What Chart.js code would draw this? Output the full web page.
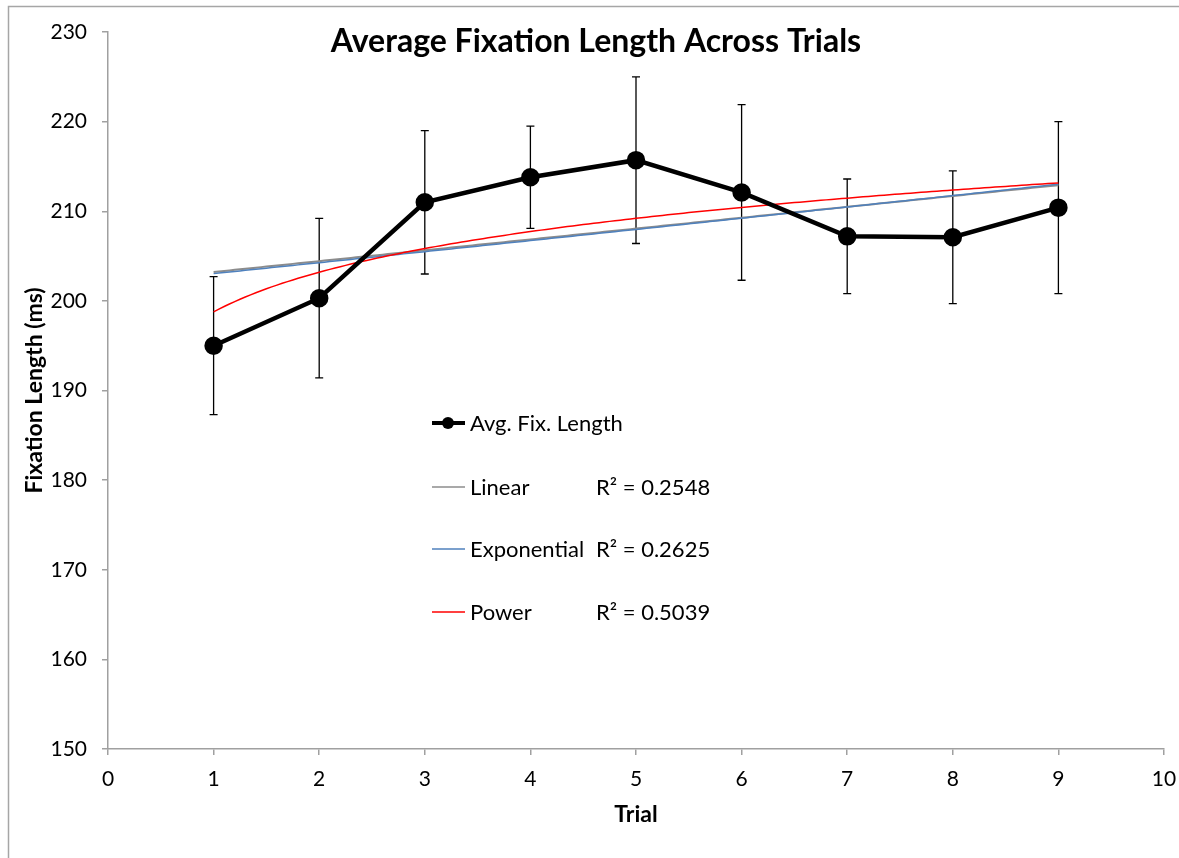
<!DOCTYPE html>
<html lang="en">

<head>
    <meta charset="UTF-8">
    <title>Average Fixation Length Across Trials</title>
    <script src="https://cdn.jsdelivr.net/npm/chart.js"></script>
    <style>
        html, body { margin: 0; padding: 0; background: #fff; }
        .frame { position: relative; width: 1179px; height: 858px; }
    </style>
</head>

<body>
    <div class="frame">
        <canvas id="fixChart" width="1179" height="858"></canvas>
    </div>

    <script>
        // trial numbers and mean fixation length (ms) with +/- error
        const trials = [1, 2, 3, 4, 5, 6, 7, 8, 9];
        const avgFix = [195.0, 200.3, 211.0, 213.8, 215.7, 212.1, 207.2, 207.1, 210.4];
        const fixErr = [7.7, 8.9, 8.0, 5.7, 9.3, 9.8, 6.4, 7.4, 9.6];

        const xTicks = [0, 1, 2, 3, 4, 5, 6, 7, 8, 9, 10];
        const yTicks = [150, 160, 170, 180, 190, 200, 210, 220, 230];

        const fitNames = ['Linear', 'Exponential', 'Power'];
        const fitR2 = ['R² = 0.2548', 'R² = 0.2625', 'R² = 0.5039'];

        const FONT = 'Lato, "Open Sans", sans-serif';
        const AXIS_GREY = '#a0a0a0';

        // least squares on (u, v)
        function lsq(us, vs) {
            const n = us.length;
            let su = 0, sv = 0, suu = 0, suv = 0;
            for (let i = 0; i < n; i++) {
                su += us[i]; sv += vs[i];
                suu += us[i] * us[i]; suv += us[i] * vs[i];
            }
            const b = (n * suv - su * sv) / (n * suu - su * su);
            return { a: (sv - b * su) / n, b: b };
        }

        const lin = lsq(trials, avgFix);
        const expo = lsq(trials, avgFix.map(Math.log));
        const pow = lsq(trials.map(Math.log), avgFix.map(Math.log));

        // trendline curves sampled between first and last trial
        const fitX = [];
        for (let k = 0; k <= 160; k++) fitX.push(1 + k * 0.05);
        const linPts = fitX.map(x => ({ x: x, y: lin.a + lin.b * x }));
        const expPts = fitX.map(x => ({ x: x, y: Math.exp(expo.a + expo.b * x) }));
        const powPts = fitX.map(x => ({ x: x, y: Math.exp(pow.a) * Math.pow(x, pow.b) }));

        const errorBars = {
            id: 'errorBars',
            beforeDatasetsDraw(chart) {
                const ctx = chart.ctx;
                const xs = chart.scales.x, ys = chart.scales.y;
                ctx.save();
                ctx.strokeStyle = '#000';
                ctx.lineWidth = 1.3;
                trials.forEach((t, i) => {
                    const px = xs.getPixelForValue(t);
                    const top = ys.getPixelForValue(avgFix[i] + fixErr[i]);
                    const bot = ys.getPixelForValue(avgFix[i] - fixErr[i]);
                    ctx.beginPath();
                    ctx.moveTo(px, top); ctx.lineTo(px, bot);
                    ctx.moveTo(px - 4, top); ctx.lineTo(px + 4, top);
                    ctx.moveTo(px - 4, bot); ctx.lineTo(px + 4, bot);
                    ctx.stroke();
                });
                ctx.restore();
            }
        };

        // outer frame, title and the in-plot legend
        const decorations = {
            id: 'decorations',
            afterDraw(chart) {
                const ctx = chart.ctx;
                ctx.save();
                ctx.strokeStyle = '#a6a6a6';
                ctx.lineWidth = 1.5;
                ctx.strokeRect(8.5, 6.5, 1200, 900);

                ctx.fillStyle = '#000';
                ctx.font = 'bold 32px ' + FONT;
                ctx.textAlign = 'center';
                ctx.textBaseline = 'middle';
                ctx.fillText('Average Fixation Length Across Trials', 596, 42);

                const ds = chart.data.datasets;
                const rows = [423, 487, 549, 612];
                ctx.font = '22px ' + FONT;
                ctx.textAlign = 'left';

                // data series entry with marker
                ctx.strokeStyle = '#000';
                ctx.lineWidth = 4;
                ctx.beginPath();
                ctx.moveTo(432, rows[0]); ctx.lineTo(465, rows[0]);
                ctx.stroke();
                ctx.beginPath();
                ctx.arc(448, rows[0], 6, 0, Math.PI * 2);
                ctx.fillStyle = '#000';
                ctx.fill();
                ctx.fillText(ds[0].label, 470, rows[0] + 1);

                for (let i = 0; i < fitNames.length; i++) {
                    const y = rows[i + 1];
                    ctx.strokeStyle = ds[i + 1].borderColor;
                    ctx.lineWidth = 1.5;
                    ctx.beginPath();
                    ctx.moveTo(432, y); ctx.lineTo(465, y);
                    ctx.stroke();
                    ctx.fillStyle = '#000';
                    ctx.fillText(fitNames[i], 470, y + 1);
                    const w = ctx.measureText(fitNames[i] + ' ').width;
                    ctx.fillText(fitR2[i], Math.max(596, 470 + w), y + 1);
                }
                ctx.restore();
            }
        };

        const ctx = document.getElementById('fixChart');
        new Chart(ctx, {
            type: 'scatter',
            data: {
                datasets: [{
                    label: 'Avg. Fix. Length',
                    data: trials.map((t, i) => ({ x: t, y: avgFix[i] })),
                    showLine: true,
                    borderColor: '#000',
                    backgroundColor: '#000',
                    borderWidth: 4.5,
                    pointRadius: 7,
                    pointHoverRadius: 7,
                    order: 0
                }, {
                    label: 'Linear',
                    data: linPts,
                    showLine: true,
                    borderColor: '#8c8c8c',
                    borderWidth: 2,
                    pointRadius: 0,
                    order: 3
                }, {
                    label: 'Exponential',
                    data: expPts,
                    showLine: true,
                    borderColor: '#4f81bd',
                    borderWidth: 1.5,
                    pointRadius: 0,
                    order: 2
                }, {
                    label: 'Power',
                    data: powPts,
                    showLine: true,
                    borderColor: '#ff0000',
                    borderWidth: 1.5,
                    pointRadius: 0,
                    order: 1
                }]
            },
            options: {
                responsive: false,
                animation: false,
                events: [],
                layout: { padding: { top: 32, right: 15, left: 0, bottom: 0 } },
                plugins: {
                    legend: { display: false },
                    tooltip: { enabled: false }
                },
                scales: {
                    x: {
                        type: 'linear',
                        min: 0,
                        max: 10,
                        afterBuildTicks: s => { s.ticks = xTicks.map(v => ({ value: v })); },
                        afterFit: s => { s.height = 109; s.paddingLeft = 0; s.paddingRight = 0; },
                        border: { color: AXIS_GREY, width: 1.5 },
                        grid: { drawOnChartArea: false, drawTicks: true, tickLength: 6, color: AXIS_GREY, lineWidth: 1.5 },
                        ticks: { color: '#000', font: { family: FONT, size: 21 }, padding: 12, maxRotation: 0 },
                        title: { display: true, text: 'Trial', color: '#000', font: { family: FONT, size: 23, weight: 'bold' }, padding: { top: 0, bottom: 30 } }
                    },
                    y: {
                        min: 150,
                        max: 230,
                        afterBuildTicks: s => { s.ticks = yTicks.map(v => ({ value: v })); },
                        afterFit: s => { s.width = 108; s.paddingTop = 0; s.paddingBottom = 0; },
                        border: { color: AXIS_GREY, width: 1.5 },
                        grid: { drawOnChartArea: false, drawTicks: true, tickLength: 6, color: AXIS_GREY, lineWidth: 1.5 },
                        ticks: { color: '#000', font: { family: FONT, size: 21 }, padding: 15 },
                        title: { display: true, text: 'Fixation Length (ms)', color: '#000', font: { family: FONT, size: 23, weight: 'bold' }, padding: { top: 21, bottom: 0 } }
                    }
                }
            },
            plugins: [errorBars, decorations]
        });
    </script>
</body>

</html>
